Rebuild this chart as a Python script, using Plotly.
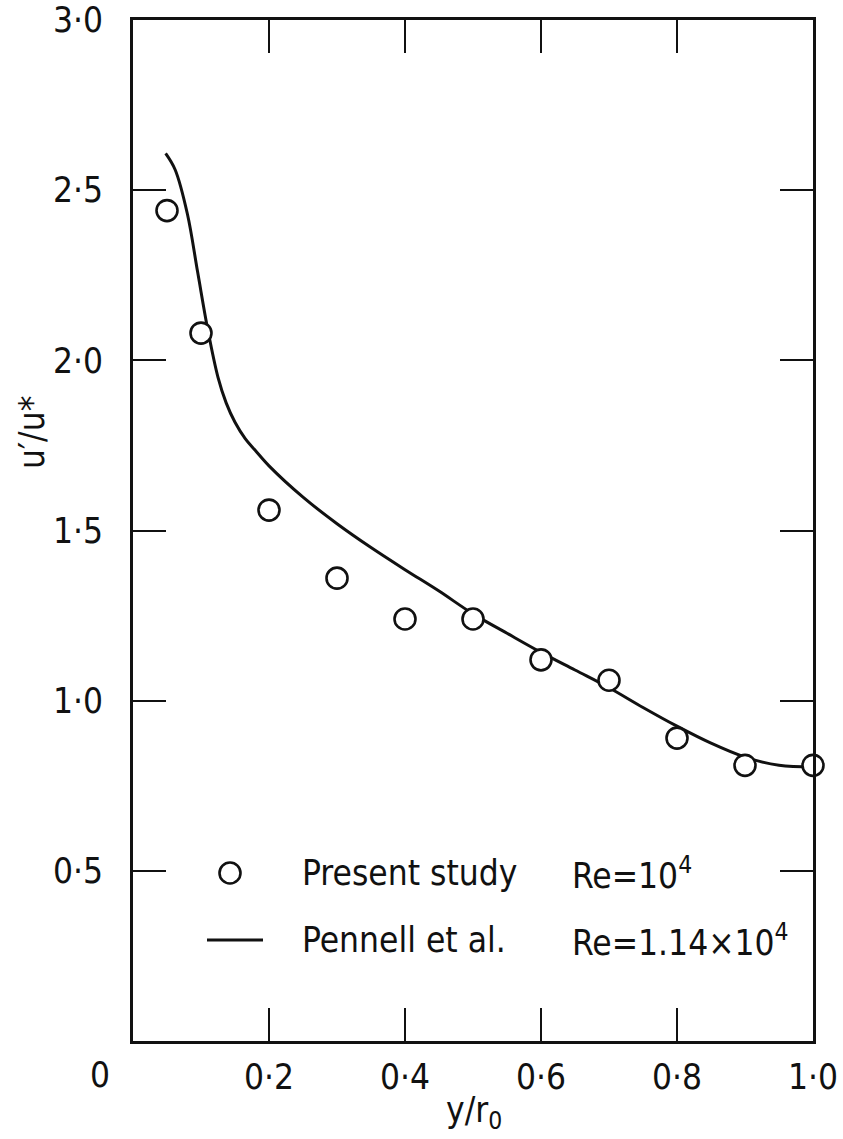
import plotly.graph_objects as go

# Data
study_x = [0.05, 0.1, 0.2, 0.3, 0.4, 0.5, 0.6, 0.7, 0.8, 0.9, 1.0]
study_y = [2.44, 2.08, 1.56, 1.36, 1.24, 1.24, 1.12, 1.06, 0.89, 0.81, 0.81]

pennell_x = [0.048, 0.062, 0.080, 0.095, 0.110, 0.125, 0.137, 0.150, 0.165, 0.180,
             0.200, 0.250, 0.300, 0.350, 0.400, 0.450, 0.500, 0.550, 0.600, 0.650,
             0.700, 0.750, 0.800, 0.850, 0.900, 0.950, 1.000]
pennell_y = [2.608, 2.560, 2.430, 2.260, 2.090, 1.950, 1.875, 1.818, 1.770, 1.735,
             1.690, 1.598, 1.520, 1.450, 1.385, 1.322, 1.255, 1.198, 1.142, 1.090,
             1.038, 0.980, 0.925, 0.875, 0.834, 0.810, 0.805]

x_tickvals = [0.2, 0.4, 0.6, 0.8, 1.0]
x_ticktext = ["0·2", "0·4", "0·6", "0·8", "1·0"]
y_tickvals = [0.5, 1.0, 1.5, 2.0, 2.5, 3.0]
y_ticktext = ["0·5", "1·0", "1·5", "2·0", "2·5", "3·0"]

INK = "#111111"
FONT = "DejaVu Sans Condensed, DejaVu Sans, sans-serif"

fig = go.Figure()
fig.add_trace(go.Scatter(
    x=pennell_x, y=pennell_y, mode="lines",
    line=dict(color=INK, width=3, shape="spline", smoothing=1.0),
    name="Pennell et al.", showlegend=False, hoverinfo="skip"))
fig.add_trace(go.Scatter(
    x=study_x, y=study_y, mode="markers",
    marker=dict(symbol="circle", size=21, color="white",
                line=dict(color=INK, width=2.6)),
    name="Present study", showlegend=False, cliponaxis=False))

# plot area in pixels: x 133..813, y 20..1041
L, R, T, B = 133, 813, 20, 1041
W, H = R - L, B - T
def px(X):
    return (X - L) / W
def py(Y):
    return (B - Y) / H

axis_common = dict(showline=True, linecolor=INK, linewidth=3, mirror="ticks",
                   ticks="inside", ticklen=33, tickwidth=1.8, tickcolor=INK,
                   showgrid=False, zeroline=False, ticklabeloverflow="allow",
                   automargin=False,
                   tickfont=dict(family=FONT, size=35, color=INK))

fig.update_layout(
    width=843, height=1139,
    margin=dict(l=L, r=843 - R, t=T, b=1139 - B),
    paper_bgcolor="white", plot_bgcolor="white",
    xaxis=dict(range=[0, 1], tickvals=x_tickvals, ticktext=x_ticktext,
               ticklabelstandoff=3, **axis_common),
    yaxis=dict(range=[0, 3], tickvals=y_tickvals, ticktext=y_ticktext,
               ticklabelstandoff=20, **axis_common),
    font=dict(family=FONT, color=INK),
)

ann = []
# origin label
ann.append(dict(x=px(100), y=py(1075), xref="paper", yref="paper", text="0",
                showarrow=False, xanchor="center", yanchor="middle",
                font=dict(family=FONT, size=35, color=INK)))
# axis titles
ann.append(dict(x=px(474), y=py(1112), xref="paper", yref="paper",
                text="y/r<sub>0</sub>", showarrow=False, xanchor="center",
                yanchor="middle", font=dict(family=FONT, size=35, color=INK)))
ann.append(dict(x=px(32), y=py(433), xref="paper", yref="paper",
                text="u′/u*", textangle=-90, showarrow=False, xanchor="center",
                yanchor="middle", font=dict(family=FONT, size=35, color=INK)))
# legend texts
for txt, X, Y in [("Present study", 300, 873), ("Re=10<sup>4</sup>", 570, 873),
                  ("Pennell et al.", 300, 940), ("Re=1.14×10<sup>4</sup>", 570, 940)]:
    ann.append(dict(x=px(X), y=py(Y), xref="paper", yref="paper", text=txt,
                    showarrow=False, xanchor="left", yanchor="middle",
                    font=dict(family=FONT, size=35, color=INK)))
fig.update_layout(annotations=ann)

# legend glyphs
fig.add_shape(type="circle", xref="paper", yref="paper",
              xsizemode="pixel", ysizemode="pixel",
              xanchor=px(230), yanchor=py(873),
              x0=-10.5, x1=10.5, y0=-10.5, y1=10.5,
              line=dict(color=INK, width=2.6), fillcolor="white")
fig.add_shape(type="line", xref="paper", yref="paper",
              x0=px(207), x1=px(263), y0=py(940), y1=py(940),
              line=dict(color=INK, width=3))

fig.write_html("out.html")
